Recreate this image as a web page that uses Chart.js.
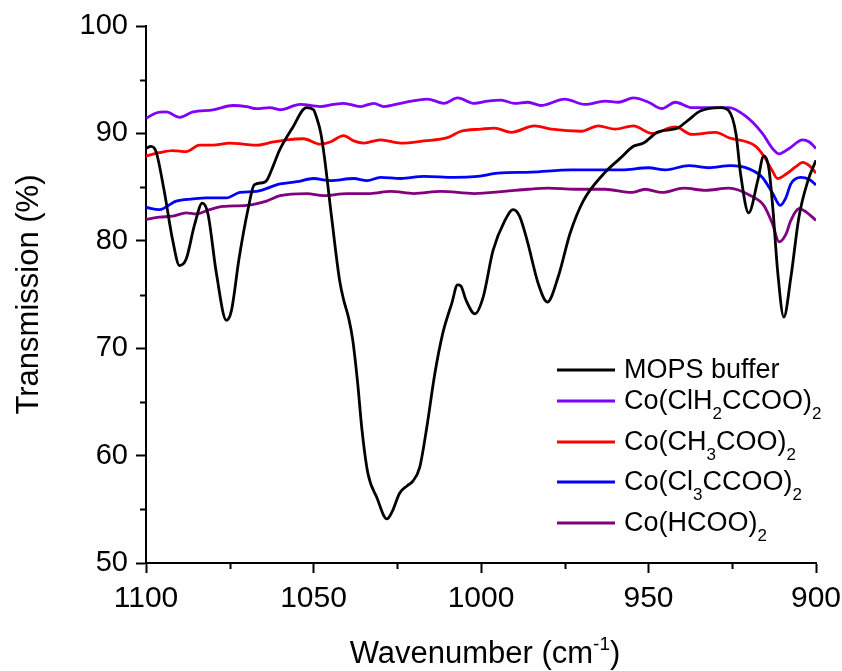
<!DOCTYPE html>
<html lang="en">
<head>
  <meta charset="UTF-8" />
  <title>Transmission spectra</title>
  <script src="https://cdn.jsdelivr.net/npm/chart.js"></script>
  <style>
    body {
      margin: 0;
      background: #ffffff;
    }

    .chart-box {
      width: 842px;
      height: 671px;
    }
  </style>
</head>
<body>
  <div class="chart-box">
    <canvas id="irChart" width="842" height="671"></canvas>
  </div>

  <script>
    // wavenumber (cm-1) / transmission (%)
    const mopsWn = [1100, 1098.5, 1097, 1094.6, 1092, 1090, 1088, 1085.5, 1083.2, 1081.5, 1079, 1076, 1074.5, 1072.2, 1069.5, 1067.7, 1065.3, 1064, 1062, 1060.2, 1056.3, 1052.1, 1050, 1049.1, 1047.8, 1046.7, 1044.6, 1042.2, 1041, 1039.5, 1038.3, 1036.8, 1035.6, 1033.8, 1031.1, 1028.1, 1026.5, 1024.3, 1022, 1020.4, 1018.3, 1016.2, 1013.8, 1011.4, 1008.7, 1007, 1006, 1004.5, 1001.8, 999.4, 996.4, 993, 990.4, 988.5, 986.2, 982.9, 980.2, 977, 973.4, 969.5, 963.5, 958.4, 954.5, 951.5, 947.3, 941.3, 938.3, 934.4, 928.4, 926, 923.9, 922.5, 920.1, 917.4, 915.6, 914.1, 912.9, 911.4, 909.6, 907.5, 905.1, 902.4, 900];
    const mopsT = [88.6, 88.8, 88.3, 84.7, 80, 77.7, 78.3, 81.5, 83.5, 82.5, 77, 72.6, 73.5, 78.4, 83, 85.2, 85.4, 85.6, 87, 88.4, 90.5, 92.4, 92.2, 91.5, 90, 87.7, 82.2, 76.3, 74.5, 72.8, 70.8, 66.7, 62.6, 58.4, 56.1, 54.1, 54.8, 56.5, 57.2, 57.6, 58.9, 62.6, 67.6, 71.4, 74.2, 75.9, 75.8, 74.5, 73.2, 74.7, 79.1, 81.8, 82.9, 82.3, 80, 76, 74.3, 76.6, 80.7, 83.7, 86.2, 87.7, 88.8, 89.1, 90.1, 90.5, 91.2, 92.1, 92.4, 92.1, 90, 86.2, 82.6, 85.6, 87.9, 86.8, 83.1, 77, 72.9, 76.6, 82.2, 85.6, 87.5];

    const clh2Wn = [1100, 1097, 1094, 1090, 1086, 1080, 1074, 1070, 1067, 1063, 1060, 1054, 1048, 1044, 1041, 1036, 1032, 1029, 1024, 1016, 1011, 1007, 1002, 998, 994, 990, 986, 982, 975, 969, 963, 959, 954.5, 950, 946, 942, 937, 930, 926, 921, 916, 913, 911, 908, 904, 902, 900];
    const clh2T = [91.4, 91.9, 92.0, 91.5, 92.0, 92.2, 92.6, 92.5, 92.3, 92.4, 92.2, 92.7, 92.5, 92.7, 92.8, 92.5, 92.8, 92.5, 92.8, 93.2, 92.8, 93.3, 92.8, 93.0, 93.1, 92.8, 92.9, 92.6, 93.2, 92.7, 93.0, 92.9, 93.3, 92.9, 92.3, 92.9, 92.4, 92.4, 92.4, 91.6, 90.0, 88.6, 88.1, 88.6, 89.4, 89.2, 88.6];

    const ch3Wn = [1100, 1096, 1092, 1088, 1084, 1080, 1075, 1071, 1067, 1062, 1058, 1053, 1048, 1045, 1041, 1038, 1035, 1030, 1024, 1017, 1010, 1006, 1000, 996, 991, 984, 979, 970, 965, 960, 954.5, 949, 942, 937, 930, 926, 918, 915.6, 913, 911.5, 909, 906, 904, 902, 900];
    const ch3T = [87.9, 88.2, 88.4, 88.3, 88.9, 88.9, 89.1, 89.0, 88.9, 89.2, 89.4, 89.5, 89.0, 89.2, 89.8, 89.3, 89.1, 89.4, 89.1, 89.3, 89.6, 90.2, 90.4, 90.5, 90.1, 90.7, 90.4, 90.2, 90.7, 90.4, 90.7, 90.0, 90.6, 89.9, 90.1, 89.6, 88.8, 87.9, 86.5, 85.8, 86.2, 86.9, 87.3, 87.0, 86.3];

    const cl3Wn = [1100, 1096, 1091, 1086, 1082, 1076, 1072, 1067, 1060, 1055, 1050, 1045, 1038, 1034, 1030, 1024, 1017, 1008, 1001, 995, 985, 973, 958, 950, 945, 938, 932, 925.5, 920, 916, 912.9, 910.7, 909, 907.5, 904.5, 902, 900];
    const cl3T = [83.1, 82.9, 83.7, 83.9, 84.0, 84.0, 84.5, 84.6, 85.3, 85.5, 85.8, 85.6, 85.8, 85.6, 85.9, 85.8, 86.0, 85.9, 86.0, 86.3, 86.4, 86.6, 86.6, 86.8, 86.6, 87.0, 86.8, 87.0, 86.7, 85.9, 84.4, 83.3, 84.0, 85.3, 85.9, 85.7, 85.2];

    const hcooWn = [1100, 1096, 1092, 1088, 1085, 1081, 1077, 1070, 1064, 1060, 1052, 1047, 1040, 1033, 1027, 1020, 1012, 1002, 993, 986, 980, 972, 963, 955, 951, 946, 939.5, 933, 926, 919.5, 915.6, 913, 911, 909, 907.5, 905, 903, 900];
    const hcooT = [82.0, 82.2, 82.3, 82.6, 82.5, 82.9, 83.2, 83.3, 83.7, 84.2, 84.4, 84.2, 84.4, 84.4, 84.6, 84.4, 84.6, 84.4, 84.6, 84.8, 84.9, 84.8, 84.8, 84.5, 84.8, 84.5, 84.9, 84.7, 84.9, 84.2, 83.3, 81.6, 79.9, 80.6, 81.9, 83.0, 82.7, 81.9];

    // '_' puts the next character in subscript
    const seriesNames = ["MOPS buffer", "Co(ClH_2CCOO)_2", "Co(CH_3COO)_2", "Co(Cl_3CCOO)_2", "Co(HCOO)_2"];
    const seriesColors = ["#000000", "#8000ff", "#ff0000", "#0000ff", "#800080"];

    const xMajor = 50, xMinor = [1075, 1025, 975, 925];
    const yMajor = 10, yMinor = [95, 85, 75, 65, 55];

    const FONT = '"Liberation Sans", Arial, sans-serif';

    function toPoints(xs, ys) {
      return xs.map((x, i) => ({ x: x, y: ys[i] }));
    }

    function drawRich(ctx, text, x, y, size) {
      let cx = x;
      let i = 0;
      while (i < text.length) {
        let run = "";
        let sub = false;
        if (text[i] === "_") {
          run = text[i + 1];
          sub = true;
          i += 2;
        } else {
          while (i < text.length && text[i] !== "_") {
            run += text[i];
            i++;
          }
        }
        ctx.font = (sub ? Math.round(size * 0.62) : size) + "px " + FONT;
        ctx.fillText(run, cx, sub ? y + 10 : y);
        cx += ctx.measureText(run).width;
      }
    }

    // small ticks between the labelled ones
    const minorTicks = {
      id: "minorTicks",
      afterDraw(chart) {
        const { ctx, scales: { x, y } } = chart;
        ctx.save();
        ctx.strokeStyle = "#000";
        ctx.lineWidth = 2;
        ctx.beginPath();
        xMinor.forEach(v => {
          const px = Math.round(x.getPixelForValue(v)) + 0.5;
          ctx.moveTo(px, x.top);
          ctx.lineTo(px, x.top + 6);
        });
        yMinor.forEach(v => {
          const py = Math.round(y.getPixelForValue(v)) + 0.5;
          ctx.moveTo(y.right, py);
          ctx.lineTo(y.right - 6, py);
        });
        ctx.stroke();
        ctx.restore();
      }
    };

    // legend inside the plot, with subscripts
    const richLegend = {
      id: "richLegend",
      afterDraw(chart) {
        const ctx = chart.ctx;
        const rows = [370, 401, 442, 482, 523];
        ctx.save();
        ctx.textBaseline = "alphabetic";
        ctx.textAlign = "left";
        seriesNames.forEach((name, i) => {
          ctx.strokeStyle = seriesColors[i];
          ctx.lineWidth = 2.8;
          ctx.beginPath();
          ctx.moveTo(557, rows[i]);
          ctx.lineTo(615, rows[i]);
          ctx.stroke();
          ctx.fillStyle = "#000";
          drawRich(ctx, name, 624, rows[i] + 8, 27);
        });
        ctx.restore();
      }
    };

    // x axis title with the superscript
    const xTitle = {
      id: "xTitle",
      afterDraw(chart) {
        const ctx = chart.ctx;
        const area = chart.chartArea;
        const parts = [["Wavenumber (cm", 31, 0], ["-1", 19, -13], [")", 31, 0]];
        ctx.save();
        ctx.fillStyle = "#000";
        ctx.textBaseline = "alphabetic";
        let total = 0;
        parts.forEach(p => {
          ctx.font = p[1] + "px " + FONT;
          total += ctx.measureText(p[0]).width;
        });
        let cx = (area.left + area.right) / 2 - total / 2 + 4;
        parts.forEach(p => {
          ctx.font = p[1] + "px " + FONT;
          ctx.fillText(p[0], cx, 663 + p[2]);
          cx += ctx.measureText(p[0]).width;
        });
        ctx.restore();
      }
    };

    const datasets = [
      toPoints(mopsWn, mopsT),
      toPoints(clh2Wn, clh2T),
      toPoints(ch3Wn, ch3T),
      toPoints(cl3Wn, cl3T),
      toPoints(hcooWn, hcooT)
    ].map((pts, i) => ({
      label: seriesNames[i],
      data: pts,
      borderColor: seriesColors[i],
      borderWidth: 2.8,
      pointRadius: 0,
      fill: false,
      cubicInterpolationMode: "monotone"
    }));

    new Chart(document.getElementById("irChart"), {
      type: "line",
      data: { datasets: datasets },
      plugins: [minorTicks, richLegend, xTitle],
      options: {
        responsive: false,
        animation: false,
        layout: { padding: { top: 26, right: 26, left: 0, bottom: 0 } },
        plugins: {
          legend: { display: false },
          tooltip: { enabled: false }
        },
        scales: {
          x: {
            type: "linear",
            reverse: true,
            min: 900,
            max: 1100,
            afterFit(scale) {
              scale.height = 108;
              scale.paddingLeft = 0;
              scale.paddingRight = 0;
            },
            border: { color: "#000", width: 2 },
            grid: { drawOnChartArea: false, tickLength: 10, tickColor: "#000", tickWidth: 2 },
            ticks: {
              stepSize: xMajor,
              color: "#000",
              padding: 8,
              maxRotation: 0,
              callback: v => String(v),
              font: { family: FONT, size: 30 }
            }
          },
          y: {
            min: 50,
            max: 100,
            afterFit(scale) {
              scale.width = 146;
              scale.paddingTop = 0;
              scale.paddingBottom = 0;
            },
            border: { color: "#000", width: 2 },
            grid: { drawOnChartArea: false, tickLength: 10, tickColor: "#000", tickWidth: 2 },
            ticks: {
              stepSize: yMajor,
              color: "#000",
              padding: 8,
              callback: v => String(v),
              font: { family: FONT, size: 29 }
            },
            title: {
              display: true,
              text: "Transmission (%)",
              color: "#000",
              padding: { top: 11 },
              font: { family: FONT, size: 31 }
            }
          }
        }
      }
    });
  </script>
</body>
</html>
